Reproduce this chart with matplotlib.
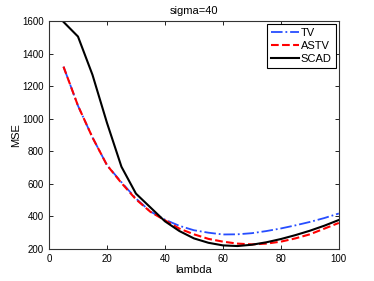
import numpy as np
import matplotlib
matplotlib.use('Agg')
import matplotlib.pyplot as plt

# data
lam = np.arange(5, 101, 5)
tv = [1320, 1080, 885, 715, 610, 510, 430, 380, 342, 315,
      300, 289, 290, 297, 310, 326, 345, 366, 390, 418]
astv = [1320, 1080, 885, 715, 605, 505, 428, 376, 325, 290,
        262, 245, 233, 228, 233, 245, 265, 290, 325, 360]
scad = [1595, 1505, 1270, 975, 705, 540, 455, 370, 310, 265,
        238, 222, 218, 226, 241, 261, 285, 312, 343, 378]

plt.rcParams['font.family'] = ['Liberation Sans', 'DejaVu Sans']
fig = plt.figure(figsize=(3.74, 2.81), dpi=100)
ax = fig.add_axes([0.131, 0.114, 0.775, 0.811])

ax.plot(lam, tv, '-.', color=(0.15, 0.3, 1.0), lw=1.3, label='TV')
ax.plot(lam, astv, '--', color='red', lw=1.5, label='ASTV')
ax.plot(lam, scad, '-', color='black', lw=1.5, label='SCAD')

ax.set_xlim(0, 100)
ax.set_ylim(200, 1600)
ax.set_xticks(np.arange(0, 101, 20))
ax.set_yticks(np.arange(200, 1601, 200))
ax.tick_params(direction='in', top=True, right=True, labelsize=7, length=3, width=0.6)
for s in ax.spines.values():
    s.set_linewidth(0.8)
    s.set_color('#333333')

ax.set_title('sigma=40', fontsize=8, pad=5)
ax.set_xlabel('lambda', fontsize=8, labelpad=1)
ax.set_ylabel('MSE', fontsize=8)
ax.yaxis.set_label_coords(-0.097, 0.5)

leg = ax.legend(loc='upper right', fontsize=8, fancybox=False, framealpha=1,
                edgecolor='black', handlelength=2.5, handletextpad=0.2,
                borderpad=0.35, labelspacing=0.25, borderaxespad=0.3)
leg.get_frame().set_linewidth(0.8)

fig.savefig('out.png', dpi=100)
